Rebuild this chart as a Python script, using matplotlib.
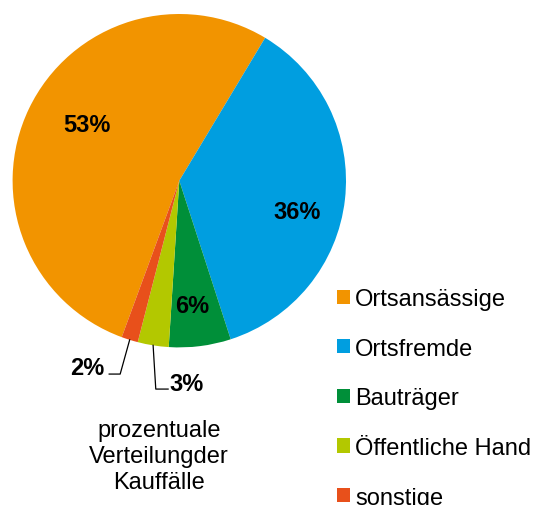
import numpy as np
import matplotlib
matplotlib.use("Agg")
import matplotlib.pyplot as plt

plt.rcParams['font.family'] = ['Liberation Sans', 'DejaVu Sans']

# Daten
kategorien = ['Ortsansässige', 'Ortsfremde', 'Bauträger', 'Öffentliche Hand', 'sonstige']
anteile = [53.0, 36.4, 6.0, 3.0, 1.6]
farben = ['#F29400', '#009EE0', '#008F39', '#B3C800', '#E8501B']
beschriftungen = ['53%', '36%', '6%', '3%', '2%']

fig = plt.figure(figsize=(5.37, 5.06), dpi=100)
W, H = 537, 506
cx, cy, r = 179.3, 181.7, 166.7
ax = fig.add_axes([(cx - r) / W, 1 - (cy + r) / H, 2 * r / W, 2 * r / H])

start = 59 + 360 * anteile[0] / 100
wedges, _ = ax.pie(anteile, colors=farben, startangle=start, counterclock=False,
                   radius=1, wedgeprops=dict(linewidth=0))
ax.set_xlim(-1, 1)
ax.set_ylim(-1, 1)
ax.axis('off')

fs = 17

# Beschriftungen innerhalb
innen = {0: (-0.554, 0.340), 1: (0.706, -0.182), 2: (0.076, -0.746)}
for i, (x, y) in innen.items():
    ax.text(x, y, beschriftungen[i], ha='center', va='center',
            fontsize=fs, fontweight='bold', color='black')

# Beschriftungen mit Führungslinien (3% und 2%)
def mitte(w):
    a = np.deg2rad((w.theta1 + w.theta2) / 2)
    return np.cos(a), np.sin(a)

x0, y0 = mitte(wedges[3])
ax.plot([x0, x0 + 0.016, x0 + 0.09], [y0, -1.25, -1.25], color='black', lw=0.9, clip_on=False)
ax.text(x0 + 0.1, -1.215, beschriftungen[3], ha='left', va='center',
        fontsize=fs, fontweight='bold')

x0, y0 = mitte(wedges[4])
ax.plot([x0, x0 - 0.057, x0 - 0.123], [y0, -1.16, -1.16], color='black', lw=0.9, clip_on=False)
ax.text(x0 - 0.15, -1.121, beschriftungen[4], ha='right', va='center',
        fontsize=fs, fontweight='bold')

fig.text(159 / W, 1 - 457 / H, 'prozentuale\nVerteilungder\nKauffälle',
         ha='center', va='center', fontsize=fs, linespacing=1.25)

fig.legend(wedges, kategorien, loc='upper left', bbox_to_anchor=(337 / W, 1 - 289 / H),
           frameon=False, fontsize=fs, handlelength=0.55, handleheight=0.55,
           handletextpad=0.22, labelspacing=1.17, borderpad=0, borderaxespad=0)

fig.savefig('out.png', dpi=100)
